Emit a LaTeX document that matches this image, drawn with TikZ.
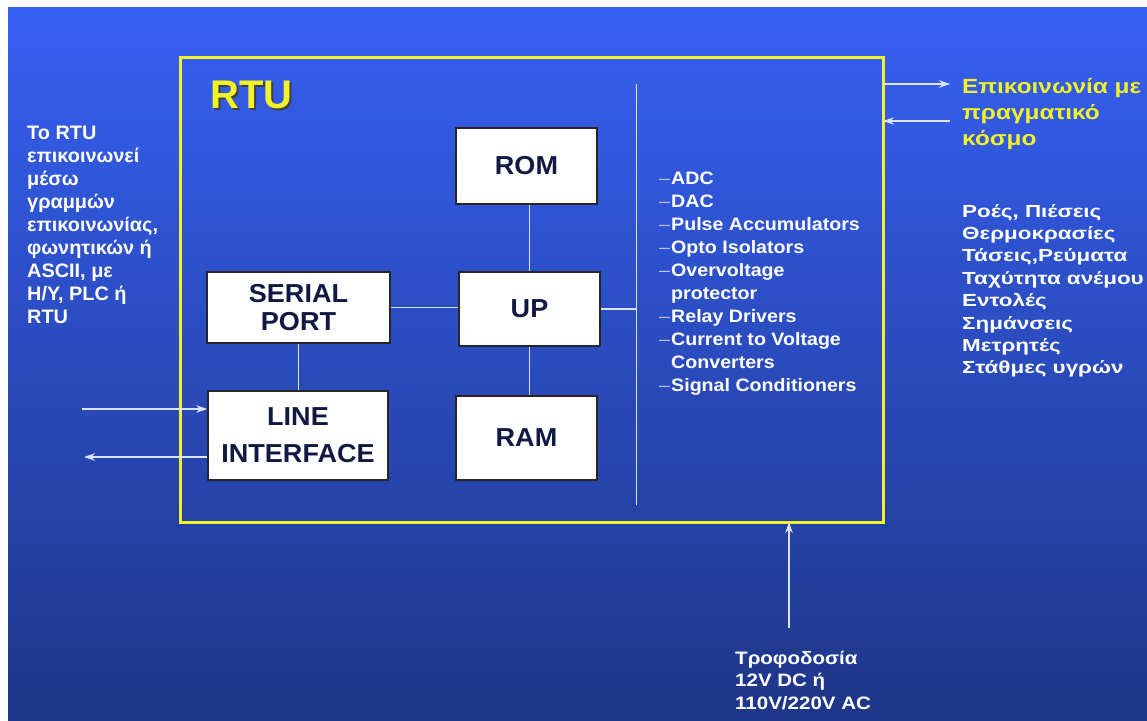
\documentclass[tikz,border=0pt]{standalone}
\usepackage{fontspec}
\setmainfont{Liberation Sans}
\newfontfamily\fYel[FakeStretch=1.19]{Liberation Sans}
\newfontfamily\fQuant[FakeStretch=1.28]{Liberation Sans}
\newfontfamily\fList[FakeStretch=1.09]{Liberation Sans}
\newfontfamily\fPow[FakeStretch=1.14]{Liberation Sans}
\newfontfamily\fLeft[FakeStretch=1.02]{Liberation Sans}
\newfontfamily\fBox[FakeStretch=1.04]{Liberation Sans}
\usetikzlibrary{arrows.meta}
\definecolor{bgtop}{RGB}{54,96,242}
\definecolor{bgbot}{RGB}{30,54,135}
\definecolor{ylw}{RGB}{242,242,40}
\definecolor{navy}{RGB}{15,25,65}
\definecolor{wire}{RGB}{220,226,250}
\tikzset{
  blk/.style={draw=black!85, line width=1.5pt, fill=white, inner sep=0pt,
    font=\fBox\fontsize{26}{28}\selectfont\bfseries, text=navy, align=center},
  wtxt/.style={inner sep=0pt, text=white, align=left, anchor=north west},
  conn/.style={draw=wire, line width=1.3pt},
  arr/.style={draw=wire, line width=1.3pt, -{Stealth[length=11pt,width=7.5pt,inset=3.5pt]}},
}
\newcommand{\dsh}{\makebox[12pt][l]{\textcolor{white!75!blue}{\mdseries –}}}
\newcommand{\ind}{\hspace*{12pt}}
\begin{document}
\begin{tikzpicture}[x=1pt,y=-1pt]
\useasboundingbox (0,0) rectangle (1147,720);
\fill[white] (0,0) rectangle (1147,720);
\shade[top color=bgtop, bottom color=bgbot] (8,7) rectangle (1147,720);

% main RTU frame
\node (rtu) [draw=ylw, line width=3pt, inner sep=0pt, outer sep=0pt, anchor=north west,
  minimum width=703pt, minimum height=465pt] at (180,57) {};
\node (rtushadow) [inner sep=0pt, anchor=base west, text=black!75,
  font=\fontsize{40}{44}\selectfont\bfseries] at (212,110) {RTU};
\node (rtutitle) [inner sep=0pt, anchor=base west, text=ylw,
  font=\fontsize{40}{44}\selectfont\bfseries] at (210,108) {RTU};

% blocks
\node (rom) [blk, minimum width=141pt, minimum height=76pt] at (526.5,166) {ROM};
\node (up) [blk, minimum width=141pt, minimum height=74pt] at (529.5,309) {UP};
\node (ram) [blk, minimum width=141pt, minimum height=84pt] at (526.5,438) {RAM};
\node (serial) [blk, minimum width=183pt, minimum height=71pt] at (298.5,307.5) {SERIAL\\PORT};
\node (line) [blk, minimum width=180pt, minimum height=89pt] at (298,435.5) {LINE\\[9pt]INTERFACE};

% bus
\coordinate (busTop) at (636.5,84);
\coordinate (busBot) at (636.5,505);
\draw[conn] (busTop) -- (busBot);

% internal connections
\draw[conn] (up.north) -- (up.north |- rom.south);
\draw[conn] (up.south) -- (up.south |- ram.north);
\draw[conn] (up.east) -- (up.east -| busTop);
\draw[conn] (serial.east) -- (serial.east -| up.west);
\draw[conn] (serial.south) -- (serial.south |- line.north);

% external arrows
\coordinate (lin) at (82,409);
\coordinate (lout) at (84,457);
\draw[arr] (lin) -- (lin -| line.west);
\draw[arr] (lout -| line.west) -- (lout);
\coordinate (rout) at (950,84);
\coordinate (rin) at (950,121);
\draw[arr] (rout -| rtu.east) -- (rout);
\draw[arr] (rin) -- (rin -| rtu.east);
\coordinate (pw) at (789,628);
\draw[arr] (pw) -- (pw |- rtu.south);

% texts
\node (lefttxt) [wtxt, font=\fLeft\fontsize{19.5}{23}\selectfont\bfseries] at (27,126)
  {Το RTU\\επικοινωνεί\\μέσω\\γραμμών\\επικοινωνίας,\\φωνητικών ή\\ASCII, με\\H/Y, PLC ή\\RTU};

\node (list) [wtxt, font=\fList\fontsize{18}{23}\selectfont\bfseries] at (659,172)
  {\dsh ADC\\\dsh DAC\\\dsh Pulse Accumulators\\\dsh Opto Isolators\\\dsh Overvoltage\\\ind protector\\\dsh Relay Drivers\\\dsh Current to Voltage\\\ind Converters\\\dsh Signal Conditioners};

\node (world) [wtxt, text=ylw, font=\fYel\fontsize{20.5}{26}\selectfont\bfseries] at (962,78)
  {Επικοινωνία με\\πραγματικό\\κόσμο};

\node (quant) [wtxt, font=\fQuant\fontsize{17.5}{22.4}\selectfont\bfseries] at (962,204)
  {Ροές, Πιέσεις\\Θερμοκρασίες\\Τάσεις,Ρεύματα\\Ταχύτητα ανέμου\\Εντολές\\Σημάνσεις\\Μετρητές\\Στάθμες υγρών};

\node (power) [wtxt, font=\fPow\fontsize{18}{22.5}\selectfont\bfseries] at (735,651)
  {Τροφοδοσία\\12V DC ή\\110V/220V AC};
\end{tikzpicture}
\end{document}
